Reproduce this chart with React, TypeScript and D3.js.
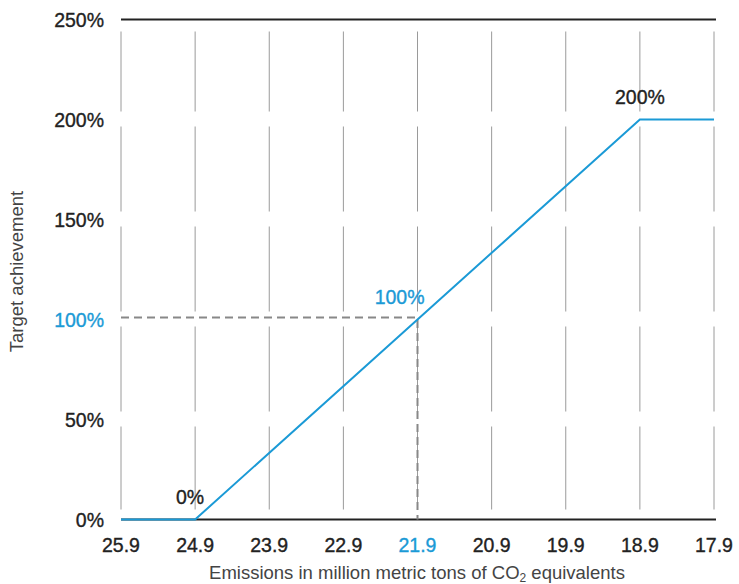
import { useEffect, useRef } from "react";
import * as d3 from "d3";

// x axis runs from high emissions (left) to low emissions (right)
const emissionTicks = [25.9, 24.9, 23.9, 22.9, 21.9, 20.9, 19.9, 18.9, 17.9];
const achievementTicks = [0, 50, 100, 150, 200, 250];

// payout curve: emissions -> target achievement (%)
const curveEmissions = [25.9, 24.9, 18.9, 17.9];
const curveAchievement = [0, 0, 200, 200];

// target point highlighted in blue
const targetEmissions = 21.9;
const targetAchievement = 100;

const BLUE = "#1b9ad6";
const DARK = "#222222";

export default function App() {
  const svgRef = useRef<SVGSVGElement>(null);
  const width = 739;
  const height = 584;

  useEffect(() => {
    document.body.style.margin = "0";
    if (!svgRef.current) return;

    const svg = d3.select(svgRef.current);
    svg.selectAll("*").remove();

    const xScale = d3.scaleLinear().domain([25.9, 17.9]).range([121, 714]);
    const yScale = d3.scaleLinear().domain([0, 250]).range([519.5, 19.5]);
    const font = "'Liberation Sans', Arial, sans-serif";
    const labelSize = 19.5;

    // vertical grid lines, broken at each y tick level
    const grid = svg.append("g");
    emissionTicks.forEach((e) => {
      for (let i = 0; i < achievementTicks.length - 1; i++) {
        const lo = achievementTicks[i];
        const hi = achievementTicks[i + 1];
        const yTop = yScale(hi) + (hi === 250 ? 12 : 7);
        const yBottom = yScale(lo) - (lo === 0 ? 10 : 8);
        grid
          .append("line")
          .attr("x1", xScale(e))
          .attr("x2", xScale(e))
          .attr("y1", yTop)
          .attr("y2", yBottom)
          .attr("stroke", "#9a9a9a")
          .attr("stroke-width", 1);
      }
    });

    // top and bottom rules
    [0, 250].forEach((v) => {
      svg
        .append("line")
        .attr("x1", xScale(25.9))
        .attr("x2", xScale(17.9) + 2)
        .attr("y1", yScale(v))
        .attr("y2", yScale(v))
        .attr("stroke", DARK)
        .attr("stroke-width", 2);
    });

    // dashed guides to the target point
    svg
      .append("path")
      .attr(
        "d",
        `M ${xScale(25.9)} ${yScale(targetAchievement) - 2} H ${xScale(targetEmissions)} V ${yScale(0)}`
      )
      .attr("fill", "none")
      .attr("stroke", "#888888")
      .attr("stroke-width", 2)
      .attr("stroke-dasharray", "8,5");

    // payout curve
    const line = d3
      .line<number>()
      .x((_, i) => xScale(curveEmissions[i]))
      .y((d) => yScale(d));
    svg
      .append("path")
      .attr("d", line(curveAchievement))
      .attr("fill", "none")
      .attr("stroke", BLUE)
      .attr("stroke-width", 2);

    // medium-weight look for the numeric labels
    const styleLabel = (sel: d3.Selection<any, any, any, any>) =>
      sel
        .attr("font-family", font)
        .attr("font-size", labelSize)
        .attr("stroke-width", 0.35)
        .attr("paint-order", "fill");

    // y tick labels
    svg
      .append("g")
      .selectAll("text")
      .data(achievementTicks)
      .join("text")
      .attr("x", 104)
      .attr("y", (d) => yScale(d) + 7)
      .attr("text-anchor", "end")
      .call(styleLabel)
      .attr("fill", (d) => (d === targetAchievement ? BLUE : DARK))
      .attr("stroke", (d) => (d === targetAchievement ? BLUE : DARK))
      .text((d) => `${d}%`);

    // x tick labels
    svg
      .append("g")
      .selectAll("text")
      .data(emissionTicks)
      .join("text")
      .attr("x", (d) => xScale(d))
      .attr("y", 552)
      .attr("text-anchor", "middle")
      .call(styleLabel)
      .attr("fill", (d) => (d === targetEmissions ? BLUE : DARK))
      .attr("stroke", (d) => (d === targetEmissions ? BLUE : DARK))
      .text((d) => d.toFixed(1));

    // point annotations
    const notes = [
      { e: 24.9, v: 0, dx: 9, anchor: "end", color: DARK },
      { e: 21.9, v: 100, dx: 7, anchor: "end", color: BLUE },
      { e: 18.9, v: 200, dx: 0, anchor: "middle", color: DARK },
    ];
    notes.forEach((n) => {
      svg
        .append("text")
        .attr("x", xScale(n.e) + n.dx)
        .attr("y", yScale(n.v) - 15.5)
        .attr("text-anchor", n.anchor)
        .call(styleLabel)
        .attr("fill", n.color)
        .attr("stroke", n.color)
        .text(`${n.v}%`);
    });

    // axis titles
    const xTitle = svg
      .append("text")
      .attr("x", 417)
      .attr("y", 579)
      .attr("text-anchor", "middle")
      .attr("font-family", font)
      .attr("font-size", 18.5)
      .attr("fill", "#444444");
    xTitle.append("tspan").text("Emissions in million metric tons of CO");
    xTitle.append("tspan").attr("font-size", 12).attr("dy", 3).text("2");
    xTitle.append("tspan").attr("dy", -3).text(" equivalents");

    svg
      .append("text")
      .attr("transform", `translate(23, ${yScale(100) - 48}) rotate(-90)`)
      .attr("text-anchor", "middle")
      .attr("font-family", font)
      .attr("font-size", 18.5)
      .attr("fill", "#444444")
      .text("Target achievement");
  }, []);

  return (
    <svg
      ref={svgRef}
      width={width}
      height={height}
      viewBox={`0 0 ${width} ${height}`}
      style={{ display: "block", background: "#ffffff" }}
    />
  );
}
